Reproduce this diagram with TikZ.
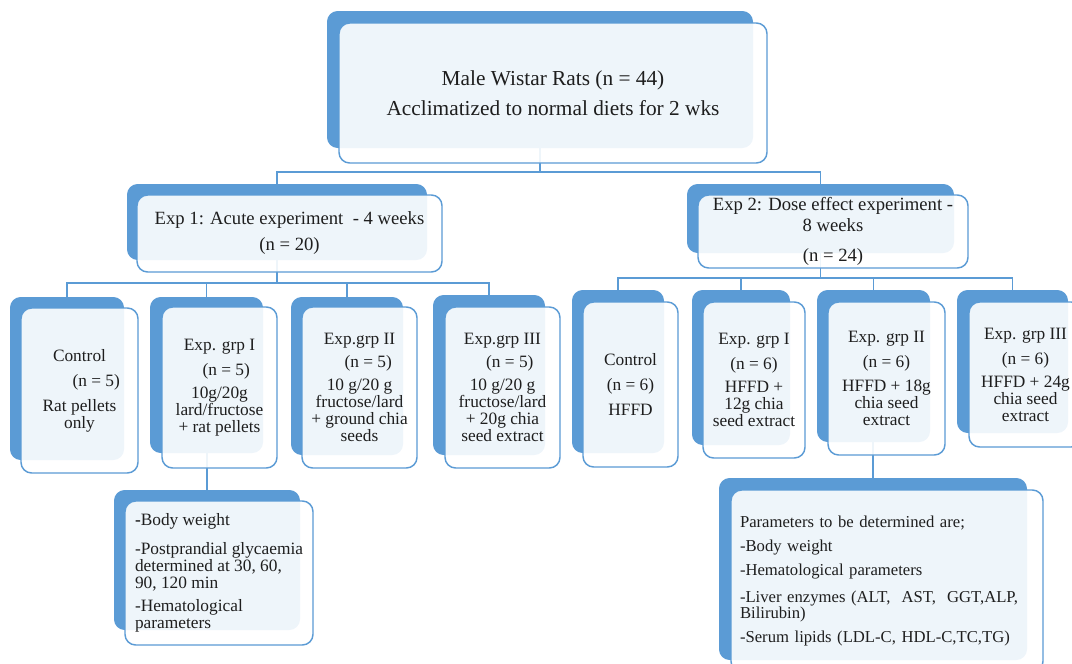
\documentclass[tikz,border=0pt]{standalone}
\usepackage{fontspec}
\setmainfont{Liberation Serif}
\usetikzlibrary{backgrounds}
\definecolor{SABlue}{RGB}{91,155,213}
\definecolor{SAText}{RGB}{30,30,30}

\begin{document}
\begin{tikzpicture}[
  x=0.75pt,y=-0.75pt,
  back/.style={fill=SABlue,rounded corners=8pt,inner sep=0pt},
  card/.style={draw=SABlue,line width=1.1pt,fill=white,fill opacity=0.9,text opacity=1,
               text=SAText,rounded corners=8pt,inner sep=0pt,align=center},
  ttl/.style={font={\fontsize{16}{22.5}\selectfont}},
  hd/.style={font={\fontsize{14}{15.75}\selectfont}},
  grp/.style={font={\fontsize{13}{12.75}\selectfont}},
  lst/.style={font={\fontsize{12.5}{12}\selectfont}},
  link/.style={draw=SABlue,line width=1.2pt},
]
\useasboundingbox (0,0) rectangle (1072,664);

% top level
\node[back,minimum width=319.5pt,minimum height=102.75pt] (rats-bk) at (540,79.5) {};
\node[card,ttl,minimum width=321pt,minimum height=105pt] (rats) at (553,93)
  {Male Wistar Rats (n = 44)\\Acclimatized to normal diets for 2 wks};

% experiments
\node[back,minimum width=225pt,minimum height=57pt] (exp1-bk) at (277,222) {};
\node[card,hd,minimum width=228.75pt,minimum height=57.75pt] (exp1) at (289.5,233.5)
  {Exp 1: Acute experiment\ \ - 4 weeks\\[3.75pt](n = 20)};
\node[back,minimum width=200.25pt,minimum height=51.75pt] (exp2-bk) at (820.5,218.5) {};
\node[card,hd,minimum width=202.5pt,minimum height=54.75pt] (exp2) at (833,231.5)
  {Exp 2: Dose effect experiment -\\8 weeks\\[6.75pt](n = 24)};

% groups of exp 1
\node[back,minimum width=85.5pt,minimum height=122.25pt] (ctlA-bk) at (67,378.5) {};
\node[card,grp,minimum width=87.75pt,minimum height=123.75pt] (ctlA) at (79.5,390.5)
  {Control\\[6pt]\hspace*{25pt}(n = 5)\\[6pt]Rat pellets\\only};
\node[back,minimum width=84.75pt,minimum height=117pt] (g1A-bk) at (206.5,375) {};
\node[card,grp,minimum width=86.25pt,minimum height=120.75pt] (g1A) at (219.5,387.5)
  {Exp. grp I\\[6pt]\hspace*{10pt}(n = 5)\\[5pt]10g/20g\\lard/fructose\\+ rat pellets};
\node[back,minimum width=84pt,minimum height=118.5pt] (g2A-bk) at (347,376) {};
\node[card,grp,minimum width=86.25pt,minimum height=120.75pt] (g2A) at (359.5,387.5)
  {Exp.grp II\\[4.5pt]\hspace*{13pt}(n = 5)\\[4.5pt]10 g/20 g\\fructose/lard\\+ ground chia\\seeds};
\node[back,minimum width=84pt,minimum height=120pt] (g3A-bk) at (489,375) {};
\node[card,grp,minimum width=86.25pt,minimum height=120.75pt] (g3A) at (502.5,387.5)
  {Exp.grp III\\[4.5pt]\hspace*{11pt}(n = 5)\\[4.5pt]10 g/20 g\\fructose/lard\\+ 20g chia\\seed extract};

% groups of exp 2
\node[back,minimum width=69pt,minimum height=122.25pt] (ctlB-bk) at (618,371.5) {};
\node[card,grp,minimum width=71.25pt,minimum height=123.75pt] (ctlB) at (630.5,384.5)
  {Control\\[6pt](n = 6)\\[6pt]HFFD};
\node[back,minimum width=73.5pt,minimum height=116.25pt] (g1B-bk) at (741,367.5) {};
\node[card,grp,minimum width=76.5pt,minimum height=117pt] (g1B) at (754,380)
  {Exp. grp I\\[6pt](n = 6)\\[5pt]HFFD +\\12g chia\\seed extract};
\node[back,minimum width=84.75pt,minimum height=114pt] (g2B-bk) at (873.5,366) {};
\node[card,grp,minimum width=87.75pt,minimum height=114.75pt] (g2B) at (886.5,378.5)
  {Exp. grp II\\[6pt](n = 6)\\[5pt]HFFD + 18g\\chia seed\\extract};
\node[back,minimum width=83.25pt,minimum height=107.25pt] (g3B-bk) at (1012.5,361.5) {};
\node[card,grp,minimum width=84.75pt,minimum height=108.75pt] (g3B) at (1025.5,374.5)
  {Exp. grp III\\[6pt](n = 6)\\[4.5pt]HFFD + 24g\\chia seed\\extract};

% parameters
\node[back,minimum width=139.5pt,minimum height=105pt] (outA-bk) at (207,560) {};
\node[card,grp,align=left,minimum width=141pt,minimum height=108pt] (outA) at (219,573)
  {\textbf{-}Body weight\\[9pt]-Postprandial glycaemia\\determined at 30, 60,\\90, 120 min\\[4.5pt]-Hematological\\parameters};
\node[back,minimum width=231pt,minimum height=136.5pt] (outB-bk) at (873,569) {};
\node[card,lst,align=left,text width=220.5pt,inner xsep=6.75pt,minimum width=234pt,minimum height=136.5pt] (outB) at (887,581)
  {Parameters to be determined are;\\[6pt]-Body weight\\[6pt]-Hematological parameters\\[8.25pt]-Liver enzymes (ALT,\ \ AST,\ \ GGT,ALP,\\Bilirubin)\\[6pt]-Serum lipids (LDL-C, HDL-C,TC,TG)};

% connectors
\coordinate (hub0) at (540,172);
\coordinate (hub1) at (277,283);
\coordinate (hub2) at (820.5,278);
\begin{pgfonlayer}{background}
\draw[link] (rats-bk.south) -- (hub0);
\draw[link] (exp1-bk.north) |- (hub0);
\draw[link] (exp2-bk.north) |- (hub0);
\draw[link] (exp1-bk.south) -- (hub1);
\foreach \n in {ctlA,g1A,g2A,g3A} \draw[link] (\n-bk.north) |- (hub1);
\draw[link] (exp2-bk.south) -- (hub2);
\foreach \n in {ctlB,g1B,g2B,g3B} \draw[link] (\n-bk.north) |- (hub2);
\draw[link] (outA-bk.north) -- (outA-bk.north |- g1A-bk.south);
\draw[link] (outB-bk.north) -- (outB-bk.north |- g2B-bk.south);
\end{pgfonlayer}
\end{tikzpicture}
\end{document}
